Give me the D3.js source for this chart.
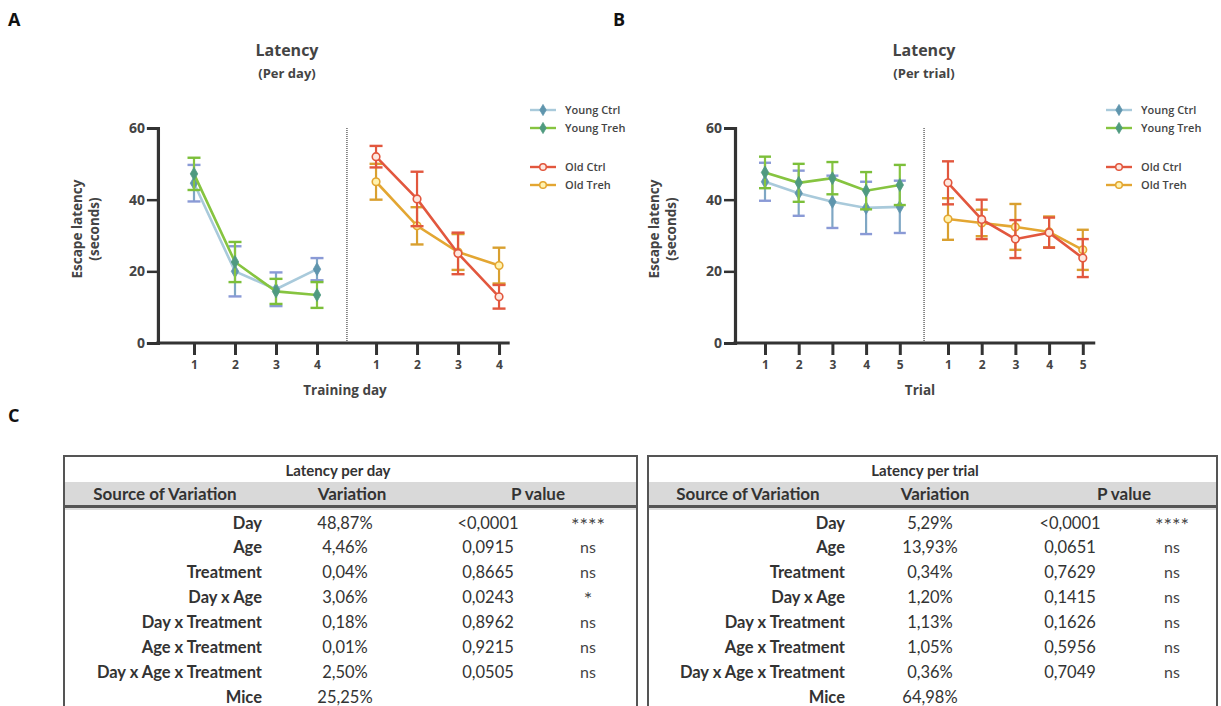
<!DOCTYPE html>
<html>
<head>
<meta charset="utf-8">
<script src="https://cdn.jsdelivr.net/npm/d3@7/dist/d3.min.js"></script>
<style>
  html, body { margin: 0; padding: 0; background: #fff; }
  svg { display: block; }
</style>
</head>
<body>
<svg id="chart" width="1221" height="706"></svg>
<script>
// ---------------- DATA ----------------
const dayTicks = ["1", "2", "3", "4"];
const trialTicks = ["1", "2", "3", "4", "5"];
const seriesNames = ["Young Ctrl", "Young Treh", "Old Ctrl", "Old Treh"];

// Panel A: latency per day (mean, SEM)
const youngCtrlDay = [44.6, 20.0, 15.0, 20.6];
const youngCtrlDayErr = [5.1, 7.0, 4.7, 3.1];
const youngTrehDay = [47.2, 22.6, 14.4, 13.4];
const youngTrehDayErr = [4.5, 5.6, 3.5, 3.6];
const oldCtrlDay = [52.0, 40.2, 25.0, 12.9];
const oldCtrlDayErr = [3.0, 7.6, 5.8, 3.3];
const oldTrehDay = [45.0, 32.7, 25.4, 21.6];
const oldTrehDayErr = [5.0, 5.2, 5.0, 5.0];

// Panel B: latency per trial (mean, SEM)
const youngCtrlTrial = [45.0, 41.8, 39.4, 37.7, 38.0];
const youngCtrlTrialErr = [5.3, 6.3, 7.3, 7.3, 7.3];
const youngTrehTrial = [47.6, 44.7, 46.0, 42.5, 44.1];
const youngTrehTrialErr = [4.4, 5.3, 4.5, 5.2, 5.6];
const oldCtrlTrial = [44.7, 34.5, 29.0, 30.8, 23.7];
const oldCtrlTrialErr = [6.0, 5.5, 5.3, 4.2, 5.3];
const oldTrehTrial = [34.6, 33.5, 32.4, 31.0, 26.0];
const oldTrehTrialErr = [5.8, 3.7, 6.4, 4.3, 5.6];

const yTicks = [0, 20, 40, 60];

// Table C
const sources = ["Day", "Age", "Treatment", "Day x Age", "Day x Treatment", "Age x Treatment", "Day x Age x Treatment", "Mice"];
const perDayVariation = ["48,87%", "4,46%", "0,04%", "3,06%", "0,18%", "0,01%", "2,50%", "25,25%"];
const perDayP = ["<0,0001", "0,0915", "0,8665", "0,0243", "0,8962", "0,9215", "0,0505", ""];
const perDaySig = ["****", "ns", "ns", "*", "ns", "ns", "ns", ""];
const perTrialVariation = ["5,29%", "13,93%", "0,34%", "1,20%", "1,13%", "1,05%", "0,36%", "64,98%"];
const perTrialP = ["<0,0001", "0,0651", "0,7629", "0,1415", "0,1626", "0,5956", "0,7049", ""];
const perTrialSig = ["****", "ns", "ns", "ns", "ns", "ns", "ns", ""];
const tableHeaders = ["Source of Variation", "Variation", "P value"];

// ---------------- STYLE ----------------
const FONT = "'Open Sans', Lato, sans-serif";
const TXT = "#444";
const styles = {
  "Young Ctrl": { line: "#a9cadb", bar: "#7fa7c4", cap: "#8a9ad6", marker: "diamond", fill: "#5f95ad", stroke: "#5f95ad" },
  "Young Treh": { line: "#86c440", bar: "#86c440", cap: "#7cbf3a", marker: "diamond", fill: "#4f9a80", stroke: "#4f9a80" },
  "Old Ctrl":   { line: "#e2573e", bar: "#e2573e", cap: "#e2573e", marker: "circle", fill: "#fde8e0", stroke: "#e2573e" },
  "Old Treh":   { line: "#e3a632", bar: "#d9a030", cap: "#d9a030", marker: "circle", fill: "#fff3b0", stroke: "#e3a632" }
};

const svg = d3.select("#chart");

// panel letters
[["A", 8, 26], ["B", 613, 26], ["C", 8, 422]].forEach(([t, x, y]) => {
  svg.append("text").attr("x", x).attr("y", y).text(t)
    .attr("font-family", "'Open Sans', Lato, sans-serif").attr("font-weight", 700)
    .attr("font-size", 18).attr("fill", "#111");
});

function drawPanel(cfg) {
  const g = svg.append("g");
  const x = d3.scaleLinear().domain([0, 1]).range([cfg.x0, cfg.x0 + cfg.step]);
  const y = d3.scaleLinear().domain([0, 60]).range([343, 128]);

  // titles
  g.append("text").attr("x", cfg.titleX).attr("y", 56).attr("text-anchor", "middle")
    .attr("font-family", FONT).attr("font-weight", 700).attr("font-size", 16).attr("fill", TXT).text("Latency");
  g.append("text").attr("x", cfg.titleX).attr("y", 78).attr("text-anchor", "middle")
    .attr("font-family", FONT).attr("font-weight", 700).attr("font-size", 13).attr("fill", TXT).text(cfg.subtitle);

  // y axis title
  const yl = g.append("text").attr("transform", `translate(${cfg.yLabelX},229) rotate(-90)`)
    .attr("text-anchor", "middle").attr("font-family", FONT).attr("font-weight", 700)
    .attr("font-size", 13.5).attr("fill", TXT);
  yl.append("tspan").attr("x", 0).attr("dy", 0).text("Escape latency");
  yl.append("tspan").attr("x", 0).attr("dy", 17).text("(seconds)");

  // dotted separator
  g.append("line").attr("x1", x(cfg.sepPos)).attr("x2", x(cfg.sepPos))
    .attr("y1", y(60)).attr("y2", y(0))
    .attr("stroke", "#666").attr("stroke-width", 1.5).attr("stroke-dasharray", "1,1");

  // y axis
  const yAxis = d3.axisLeft(y).tickValues(yTicks).tickSize(11).tickPadding(2).tickFormat(d3.format("d"));
  const ya = g.append("g").attr("transform", `translate(${x(cfg.axisStart)},0)`).call(yAxis);
  ya.select(".domain").attr("stroke", "#333").attr("stroke-width", 3.2);
  ya.selectAll(".tick line").attr("stroke", "#333").attr("stroke-width", 2.5);
  ya.selectAll(".tick text").attr("font-family", FONT).attr("font-weight", 700)
    .attr("font-size", 14).attr("fill", TXT);

  // x axis
  const positions = [];
  const labels = [];
  cfg.ticks.forEach((t, i) => { positions.push(1 + i); labels.push(t); });
  cfg.ticks.forEach((t, i) => { positions.push(1 + cfg.oldOffset + i); labels.push(t); });
  const xAxis = d3.axisBottom(x).tickValues(positions).tickSize(12).tickPadding(5)
    .tickFormat((d, i) => labels[i]).tickSizeOuter(0);
  const xa = g.append("g").attr("transform", `translate(0,${y(0)})`).call(xAxis);
  xa.select(".domain").attr("d", `M${x(cfg.axisStart) - 1.6},0H${x(cfg.axisEnd)}`)
    .attr("stroke", "#333").attr("stroke-width", 3.2);
  xa.selectAll(".tick line").attr("stroke", "#333").attr("stroke-width", 3);
  xa.selectAll(".tick text").attr("font-family", FONT).attr("font-weight", 700)
    .attr("font-size", 12).attr("fill", TXT);

  g.append("text").attr("x", cfg.xLabelX).attr("y", 395).attr("text-anchor", "middle")
    .attr("font-family", FONT).attr("font-weight", 700).attr("font-size", 13.5).attr("fill", TXT).text(cfg.xLabel);

  // series
  const diamond = d3.symbol().type(d3.symbolDiamond).size(48);
  cfg.series.forEach(s => {
    const st = styles[s.name];
    const base = s.old ? 1 + cfg.oldOffset : 1;
    const pts = s.values.map((v, i) => ({ px: x(base + i), v, e: s.err[i] }));
    const sg = g.append("g");
    pts.forEach(p => {
      sg.append("line").attr("x1", p.px).attr("x2", p.px).attr("y1", y(p.v - p.e)).attr("y2", y(p.v + p.e))
        .attr("stroke", st.bar).attr("stroke-width", 2.2);
      [p.v - p.e, p.v + p.e].forEach(val => {
        sg.append("line").attr("x1", p.px - cfg.cap).attr("x2", p.px + cfg.cap).attr("y1", y(val)).attr("y2", y(val))
          .attr("stroke", st.cap).attr("stroke-width", 2.4);
      });
    });
    sg.append("path").datum(pts)
      .attr("d", d3.line().x(d => d.px).y(d => y(d.v)))
      .attr("fill", "none").attr("stroke", st.line).attr("stroke-width", 2.6);
    pts.forEach(p => {
      if (st.marker === "diamond") {
        sg.append("path").attr("d", diamond()).attr("transform", `translate(${p.px},${y(p.v)})`)
          .attr("fill", st.fill).attr("stroke", st.stroke).attr("stroke-width", 0.8);
      } else {
        sg.append("circle").attr("cx", p.px).attr("cy", y(p.v)).attr("r", 3.8)
          .attr("fill", st.fill).attr("stroke", st.stroke).attr("stroke-width", 1.6);
      }
    });
  });

  // legend
  const legY = [110, 128, 167, 185];
  seriesNames.forEach((n, i) => {
    const st = styles[n];
    const lg = g.append("g").attr("transform", `translate(${cfg.legX},${legY[i]})`);
    lg.append("line").attr("x1", 0).attr("x2", 26).attr("y1", 0).attr("y2", 0)
      .attr("stroke", st.line).attr("stroke-width", 2.4);
    lg.append("line").attr("x1", 13).attr("x2", 13).attr("y1", -4).attr("y2", 4)
      .attr("stroke", st.bar).attr("stroke-width", 1.5);
    if (st.marker === "diamond") {
      lg.append("path").attr("d", d3.symbol().type(d3.symbolDiamond).size(36)()).attr("transform", "translate(13,0)")
        .attr("fill", st.fill).attr("stroke", st.stroke).attr("stroke-width", 0.8);
    } else {
      lg.append("circle").attr("cx", 13).attr("cy", 0).attr("r", 3.3)
        .attr("fill", st.fill).attr("stroke", st.stroke).attr("stroke-width", 1.5);
    }
    lg.append("text").attr("x", 35).attr("y", 4).text(n)
      .attr("font-family", FONT).attr("font-weight", 600).attr("font-size", 11).attr("fill", TXT);
  });
}

drawPanel({
  x0: 153, step: 41, axisStart: 0.12, axisEnd: 8.7, sepPos: 4.73, oldOffset: 4.44,
  ticks: dayTicks, titleX: 287, subtitle: "(Per day)", yLabelX: 82, xLabel: "Training day", xLabelX: 345,
  legX: 530, cap: 6.5,
  series: [
    { name: "Young Ctrl", values: youngCtrlDay, err: youngCtrlDayErr, old: false },
    { name: "Young Treh", values: youngTrehDay, err: youngTrehDayErr, old: false },
    { name: "Old Treh", values: oldTrehDay, err: oldTrehDayErr, old: true },
    { name: "Old Ctrl", values: oldCtrlDay, err: oldCtrlDayErr, old: true }
  ]
});

drawPanel({
  x0: 731.3, step: 33.7, axisStart: 0.11, axisEnd: 10.8, sepPos: 5.72, oldOffset: 5.43,
  ticks: trialTicks, titleX: 924, subtitle: "(Per trial)", yLabelX: 659, xLabel: "Trial", xLabelX: 920,
  legX: 1106, cap: 6,
  series: [
    { name: "Young Ctrl", values: youngCtrlTrial, err: youngCtrlTrialErr, old: false },
    { name: "Young Treh", values: youngTrehTrial, err: youngTrehTrialErr, old: false },
    { name: "Old Treh", values: oldTrehTrial, err: oldTrehTrialErr, old: true },
    { name: "Old Ctrl", values: oldCtrlTrial, err: oldCtrlTrialErr, old: true }
  ]
});

// ---------------- TABLES ----------------
function drawTable(cfg) {
  const g = svg.append("g");
  const TF = "Lato, 'Open Sans', sans-serif";
  const rowY = d3.scalePoint().domain(sources).range([523, 697]);
  g.append("rect").attr("x", cfg.x0 + 1).attr("y", 482).attr("width", cfg.x1 - cfg.x0 - 2).attr("height", 23)
    .attr("fill", "#d9d9d9");
  g.append("line").attr("x1", cfg.x0).attr("x2", cfg.x1).attr("y1", 506.5).attr("y2", 506.5)
    .attr("stroke", "#555").attr("stroke-width", 3);
  g.append("line").attr("x1", cfg.x0).attr("x2", cfg.x1).attr("y1", 509).attr("y2", 509)
    .attr("stroke", "#bbb").attr("stroke-width", 1);
  g.append("path").attr("d", `M${cfg.x0},720V456H${cfg.x1}V720`)
    .attr("fill", "none").attr("stroke", "#555").attr("stroke-width", 2);

  g.append("text").attr("x", cfg.titleX).attr("y", 476).attr("text-anchor", "middle")
    .attr("font-family", TF).attr("font-weight", 700).attr("font-size", 15).attr("fill", "#333").text(cfg.title);
  tableHeaders.forEach((h, i) => {
    g.append("text").attr("x", cfg.headX[i]).attr("y", 500).attr("text-anchor", "middle")
      .attr("font-family", TF).attr("font-weight", 700).attr("font-size", 17).attr("fill", "#333").text(h);
  });
  sources.forEach((s, i) => {
    const yy = rowY(s) + 5.5;
    g.append("text").attr("x", cfg.labX).attr("y", yy).attr("text-anchor", "end")
      .attr("font-family", TF).attr("font-weight", 700).attr("font-size", 16.5).attr("fill", "#333").text(s);
    g.append("text").attr("x", cfg.varX).attr("y", yy).attr("text-anchor", "middle")
      .attr("font-family", TF).attr("font-size", 16.5).attr("fill", "#333").text(cfg.variation[i]);
    g.append("text").attr("x", cfg.pX).attr("y", yy).attr("text-anchor", "middle")
      .attr("font-family", TF).attr("font-size", 16.5).attr("fill", "#333").text(cfg.p[i]);
    g.append("text").attr("x", cfg.sigX).attr("y", yy + (cfg.sig[i].startsWith("*") ? 3 : 0)).attr("text-anchor", "middle")
      .attr("font-family", TF).attr("font-size", cfg.sig[i].startsWith("*") ? 20 : 16).attr("fill", "#444").text(cfg.sig[i]);
  });
}

drawTable({
  x0: 64, x1: 637, title: "Latency per day", titleX: 338, headX: [165, 352, 538],
  labX: 262, varX: 345, pX: 488, sigX: 588,
  variation: perDayVariation, p: perDayP, sig: perDaySig
});
drawTable({
  x0: 648, x1: 1217, title: "Latency per trial", titleX: 925, headX: [748, 935, 1124],
  labX: 845, varX: 930, pX: 1070, sigX: 1172,
  variation: perTrialVariation, p: perTrialP, sig: perTrialSig
});
</script>
</body>
</html>
